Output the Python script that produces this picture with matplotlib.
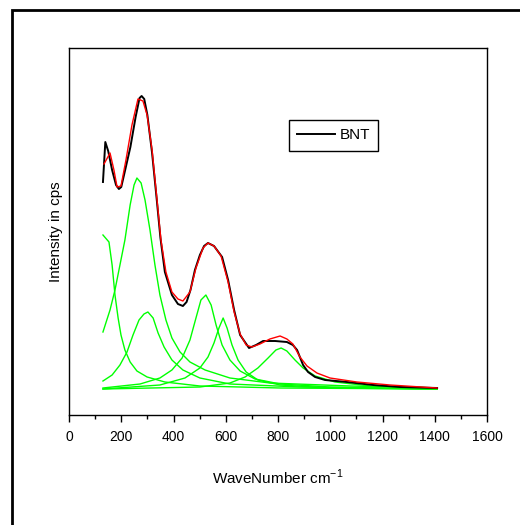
import matplotlib
matplotlib.use("Agg")
import matplotlib.pyplot as plt
from matplotlib.patches import Rectangle

plt.rcParams['font.family'] = ['Liberation Sans', 'DejaVu Sans']
plt.rcParams['mathtext.fontset'] = 'custom'
plt.rcParams['mathtext.rm'] = 'Liberation Sans'

# measured spectrum (BNT)
bnt_wn = [130, 139, 150, 165, 180, 191, 200, 215, 235, 255, 270, 278, 288, 300, 318, 336, 350,
          367, 394, 417, 436, 450, 465, 482, 501, 517, 532, 555, 586, 609, 632, 655, 689, 716,
          743, 789, 834, 857, 873, 896, 915, 942, 980, 1064, 1164, 1267, 1409]
bnt_y = [233, 273, 264, 245, 230, 226, 228, 245, 268, 298, 317, 319, 316, 300, 262, 215, 177,
         143, 120, 111, 109, 113, 125, 145, 160, 169, 172, 169, 158, 135, 105, 80, 67, 70,
         74, 74, 73, 70, 65, 50, 43, 38, 35, 33, 30, 28, 27]

# cumulative fit
fit_wn = [134, 157, 172, 184, 199, 218, 241, 264, 283, 299, 318, 337, 352, 371, 394, 417, 436,
          463, 486, 513, 532, 555, 582, 609, 632, 655, 678, 700, 731, 769, 808, 834, 857, 884,
          911, 949, 999, 1102, 1229, 1409]
fit_y = [251, 262, 245, 228, 229, 255, 290, 316, 314, 300, 265, 215, 175, 143, 123, 116, 114,
         123, 147, 167, 172, 169, 159, 133, 103, 81, 70, 68, 71, 76, 79, 76, 71, 58,
         49, 42, 37, 33, 30, 27]

# fitted Lorentzian components
peak1_wn = [130, 153, 165, 176, 188, 199, 214, 234, 260, 299, 367, 501, 808, 1409]
peak1_y = [180, 173, 150, 120, 97, 80, 65, 53, 44, 38, 33, 29, 27, 26]

peak2_wn = [130, 157, 176, 195, 214, 234, 249, 260, 276, 291, 310, 329, 348, 371, 394, 425,
            463, 521, 616, 769, 1076, 1409]
peak2_y = [83, 105, 125, 150, 175, 210, 230, 237, 232, 215, 185, 150, 120, 95, 77, 63,
           53, 45, 37, 32, 29, 27]

peak3_wn = [130, 165, 195, 222, 245, 268, 287, 302, 322, 341, 364, 394, 436, 501, 616, 884, 1409]
peak3_y = [34, 40, 50, 63, 80, 95, 101, 103, 97, 82, 68, 55, 45, 37, 31, 28, 26]

peak4_wn = [130, 272, 348, 394, 433, 463, 486, 505, 524, 544, 563, 586, 616, 655, 712, 808,
            999, 1409]
peak4_y = [27, 31, 37, 45, 57, 75, 97, 115, 120, 110, 90, 70, 55, 44, 36, 31, 28, 26]

peak5_wn = [130, 348, 444, 501, 532, 555, 574, 590, 605, 624, 647, 678, 723, 808, 999, 1409]
peak5_y = [26, 30, 37, 47, 58, 72, 87, 97, 87, 70, 55, 43, 35, 30, 27, 26]

peak6_wn = [130, 501, 616, 674, 723, 762, 792, 812, 834, 865, 896, 942, 1018, 1152, 1409]
peak6_y = [26, 28, 32, 38, 47, 57, 65, 67, 64, 55, 47, 39, 33, 29, 27]

peaks = [(peak1_wn, peak1_y), (peak2_wn, peak2_y), (peak3_wn, peak3_y),
         (peak4_wn, peak4_y), (peak5_wn, peak5_y), (peak6_wn, peak6_y)]

fig = plt.figure(figsize=(5.2, 5.25), dpi=100)
ax = fig.add_axes([69/520, 1 - 415/525, 418/520, 367/525])

# outer frame running off the right and bottom edges
frame_top = 1 - 10/525
fig.patches.append(Rectangle((12/520, -0.2), 1.2, frame_top + 0.2, transform=fig.transFigure,
                             fill=False, edgecolor='black', linewidth=2, clip_on=False))

for wn, y in peaks:
    ax.plot(wn, y, color='#00ff00', linewidth=1)
ax.plot(bnt_wn, bnt_y, color='black', linewidth=1.4, label='BNT')
ax.plot(fit_wn, fit_y, color='#ff0000', linewidth=1)

ax.set_xlim(0, 1600)
ax.set_ylim(0, 367)
ax.set_xticks(range(0, 1601, 200))
ax.set_xticks(range(100, 1600, 200), minor=True)
ax.set_yticks([])
ax.tick_params(axis='x', which='major', direction='out', length=5, width=1, labelsize=10, pad=6)
ax.tick_params(axis='x', which='minor', direction='out', length=3, width=1)
for s in ax.spines.values():
    s.set_linewidth(1)

ax.set_xlabel('WaveNumber cm$^{-1}$', fontsize=11, labelpad=17)
ax.set_ylabel('Intensity in cps', fontsize=11, labelpad=4)

leg = ax.legend(loc='upper left', bbox_to_anchor=(0.526, 0.804), borderaxespad=0,
                fontsize=11, handlelength=2.5, handletextpad=0.25, fancybox=False,
                framealpha=1, edgecolor='black', borderpad=0.55)
leg.get_frame().set_linewidth(1)

fig.savefig('out.png', dpi=100)
